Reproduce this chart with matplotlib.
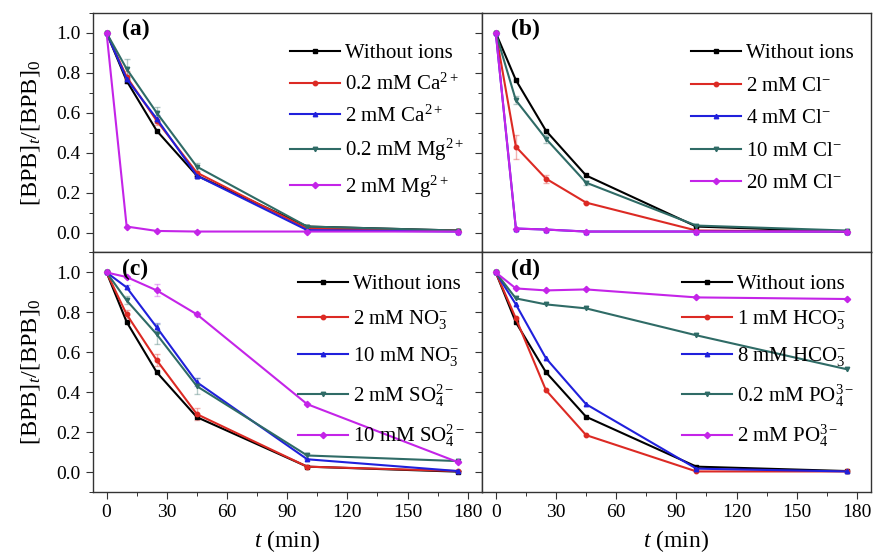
import matplotlib
matplotlib.use("Agg")
import matplotlib.pyplot as plt
from matplotlib.ticker import MultipleLocator
import numpy as np

plt.rcParams['font.family'] = ['Liberation Serif', 'DejaVu Serif']
plt.rcParams['mathtext.fontset'] = 'custom'
plt.rcParams['mathtext.rm'] = 'Liberation Serif'
plt.rcParams['mathtext.it'] = 'Liberation Serif:italic'
plt.rcParams['mathtext.bf'] = 'Liberation Serif:bold'

# time points (min)
t = [0, 10, 25, 45, 100, 175]

# Panel (a)
a_labels = ["Without ions", "0.2 mM Ca$^{2+}$", "2 mM Ca$^{2+}$", "0.2 mM Mg$^{2+}$", "2 mM Mg$^{2+}$"]
a_without = [1.0, 0.76, 0.51, 0.285, 0.03, 0.01]
a_ca02 = [1.0, 0.78, 0.56, 0.30, 0.02, 0.01]
a_ca2 = [1.0, 0.77, 0.57, 0.285, 0.012, 0.005]
a_mg02 = [1.0, 0.82, 0.60, 0.33, 0.03, 0.01]
a_mg2 = [1.0, 0.03, 0.008, 0.005, 0.005, 0.005]
a_err = [[0, 0, 0, 0, 0, 0], [0, 0.03, 0.02, 0, 0, 0], [0, 0.02, 0.02, 0, 0, 0],
         [0, 0.05, 0.03, 0.02, 0, 0], [0, 0, 0, 0, 0, 0]]

# Panel (b)
b_labels = ["Without ions", "2 mM Cl$^{-}$", "4 mM Cl$^{-}$", "10 mM Cl$^{-}$", "20 mM Cl$^{-}$"]
b_without = [1.0, 0.764, 0.51, 0.286, 0.03, 0.005]
b_cl2 = [1.0, 0.43, 0.27, 0.15, 0.01, 0.005]
b_cl4 = [1.0, 0.02, 0.015, 0.005, 0.005, 0.005]
b_cl10 = [1.0, 0.663, 0.47, 0.25, 0.035, 0.01]
b_cl20 = [1.0, 0.02, 0.015, 0.005, 0.005, 0.005]
b_err = [[0, 0, 0, 0, 0, 0], [0, 0.06, 0.02, 0, 0, 0], [0, 0, 0, 0, 0, 0],
         [0, 0.02, 0.02, 0.01, 0, 0], [0, 0, 0, 0, 0, 0]]

# Panel (c)
c_labels = ["Without ions", "2 mM NO$_3^{-}$", "10 mM NO$_3^{-}$", "2 mM SO$_4^{2-}$", "10 mM SO$_4^{2-}$"]
c_without = [1.0, 0.752, 0.50, 0.275, 0.027, 0.002]
c_no2 = [1.0, 0.79, 0.56, 0.29, 0.027, 0.005]
c_no10 = [1.0, 0.925, 0.725, 0.45, 0.064, 0.005]
c_so2 = [1.0, 0.86, 0.69, 0.43, 0.083, 0.055]
c_so10 = [1.0, 0.977, 0.91, 0.79, 0.34, 0.05]
c_err = [[0, 0, 0, 0, 0, 0], [0, 0.02, 0.03, 0.03, 0, 0], [0, 0.01, 0.02, 0.02, 0, 0],
         [0, 0.02, 0.05, 0.04, 0, 0], [0, 0, 0.03, 0.01, 0, 0]]

# Panel (d)
d_labels = ["Without ions", "1 mM HCO$_3^{-}$", "8 mM HCO$_3^{-}$", "0.2 mM PO$_4^{3-}$", "2 mM PO$_4^{3-}$"]
d_without = [1.0, 0.75, 0.50, 0.277, 0.027, 0.005]
d_hco1 = [1.0, 0.77, 0.41, 0.185, 0.003, 0.003]
d_hco8 = [1.0, 0.84, 0.57, 0.34, 0.017, 0.003]
d_po02 = [1.0, 0.87, 0.84, 0.82, 0.685, 0.515]
d_po2 = [1.0, 0.92, 0.91, 0.915, 0.875, 0.867]
d_err = [[0, 0, 0, 0, 0, 0]] * 5

panel_tags = ["(a)", "(b)", "(c)", "(d)"]
colors = ["#000000", "#dc2a24", "#2020dc", "#2f6b66", "#c424e8"]
markers = ["s", "o", "^", "v", "D"]

panels = [
    (a_labels, [a_without, a_ca02, a_ca2, a_mg02, a_mg2], a_err),
    (b_labels, [b_without, b_cl2, b_cl4, b_cl10, b_cl20], b_err),
    (c_labels, [c_without, c_no2, c_no10, c_so2, c_so10], c_err),
    (d_labels, [d_without, d_hco1, d_hco8, d_po02, d_po2], d_err),
]
leg_spacing = [0.5, 0.62, 0.67, 0.67]
leg_top = [0.958, 0.958, 0.995, 0.995]

fig, axes = plt.subplots(2, 2, figsize=(8.78, 5.53), dpi=100)
fig.subplots_adjust(left=0.1054, right=0.992, top=0.9765, bottom=0.1103, wspace=0, hspace=0)

for idx, ax in enumerate(axes.flat):
    labels, series, errs = panels[idx]
    for k, (lab, y) in enumerate(zip(labels, series)):
        e = errs[k]
        if any(v > 0 for v in e):
            ax.errorbar(t, y, yerr=e, fmt='none', ecolor=colors[k], alpha=0.35,
                        elinewidth=1, capsize=2, zorder=1)
        ax.plot(t, y, color=colors[k], marker=markers[k], markersize=3.2,
                linewidth=1.5, label=lab, zorder=2 + k * 0.1)
    ax.set_xlim(-7, 187)
    ax.set_ylim(-0.1, 1.1)
    ax.xaxis.set_major_locator(MultipleLocator(30))
    ax.xaxis.set_minor_locator(MultipleLocator(15))
    ax.yaxis.set_major_locator(MultipleLocator(0.2))
    ax.yaxis.set_minor_locator(MultipleLocator(0.1))
    ax.tick_params(which='major', direction='out', length=5, width=0.8, labelsize=14,
                   colors='#333333', labelcolor='black')
    ax.tick_params(which='minor', direction='out', length=3, width=0.7, colors='#333333')
    for s in ax.spines.values():
        s.set_color('#333333')
        s.set_linewidth(1.0)
    ax.yaxis.set_major_formatter(plt.FuncFormatter(lambda v, p: f"{v:.1f}"))
    row, col = divmod(idx, 2)
    if row == 0:
        ax.tick_params(labelbottom=False)
    else:
        ax.set_xlabel("$t$ (min)", fontsize=17, labelpad=5)
    if col == 1:
        ax.tick_params(labelleft=False)
    else:
        ax.set_ylabel("[BPB]$_t$/[BPB]$_0$", fontsize=17.5, labelpad=10)
    ax.text(0.075, 0.975, panel_tags[idx], transform=ax.transAxes, fontsize=17,
            fontweight='bold', va='top', ha='left')
    ax.legend(loc='upper right', frameon=False, fontsize=15, handlelength=2.4,
              handletextpad=0.25, labelspacing=leg_spacing[idx], borderaxespad=0.6,
              bbox_to_anchor=(1.01, leg_top[idx]))

fig.savefig("out.png", dpi=100)
